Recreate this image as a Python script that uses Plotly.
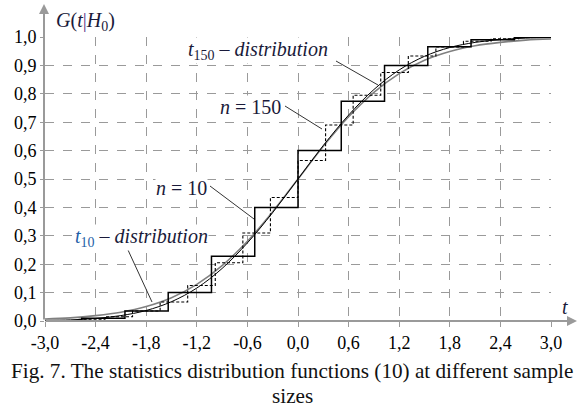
import plotly.graph_objects as go

# ---------------- data ----------------
t_grid = [-3.0, -2.7, -2.4, -2.1, -1.8, -1.5, -1.2, -0.9, -0.6, -0.3, 0.0,
          0.3, 0.6, 0.9, 1.2, 1.5, 1.8, 2.1, 2.4, 2.7, 3.0]
g_t10 = [0.007, 0.011, 0.019, 0.031, 0.051, 0.082, 0.129, 0.195, 0.281, 0.385, 0.5,
         0.615, 0.719, 0.805, 0.871, 0.918, 0.949, 0.969, 0.981, 0.989, 0.993]
g_t150 = [0.002, 0.004, 0.009, 0.019, 0.037, 0.068, 0.116, 0.185, 0.275, 0.382, 0.5,
          0.618, 0.725, 0.815, 0.884, 0.932, 0.963, 0.981, 0.991, 0.996, 0.998]

n10_t = [-3.0, -2.565, -2.052, -1.539, -1.026, -0.513, 0.0, 0.513, 1.026, 1.539, 2.052, 2.565, 3.0]
n10_g = [0.001, 0.01, 0.035, 0.1, 0.228, 0.4, 0.6, 0.774, 0.9, 0.966, 0.99, 0.999, 0.999]

n150_t = [-3.0, -2.943, -2.616, -2.289, -1.962, -1.635, -1.308, -0.981, -0.654, -0.327, 0.0,
          0.327, 0.654, 0.981, 1.308, 1.635, 1.962, 2.289, 2.616, 2.943, 3.0]
n150_g = [0.001, 0.002, 0.006, 0.015, 0.035, 0.067, 0.125, 0.205, 0.31, 0.435, 0.565,
          0.69, 0.795, 0.875, 0.933, 0.965, 0.985, 0.994, 0.998, 0.999, 0.999]

x_tick_vals = [-3.0, -2.4, -1.8, -1.2, -0.6, 0.0, 0.6, 1.2, 1.8, 2.4, 3.0]
x_tick_text = ["-3,0", "-2,4", "-1,8", "-1,2", "-0,6", "0,0", "0,6", "1,2", "1,8", "2,4", "3,0"]
y_tick_vals = [0.0, 0.1, 0.2, 0.3, 0.4, 0.5, 0.6, 0.7, 0.8, 0.9, 1.0]
y_tick_text = ["0,0", "0,1", "0,2", "0,3", "0,4", "0,5", "0,6", "0,7", "0,8", "0,9", "1,0"]

# ---------------- layout helpers ----------------
W, H = 579, 407
L, R, T, B = 45, 28, 37, 86
PW, PH = W - L - R, H - T - B


def px(x):
    return (x - L) / PW


def py(y):
    return (H - B - y) / PH


SERIF = "Liberation Serif"
TXT = "#1a1a3a"
GRID = "#9a9a9a"

fig = go.Figure()
fig.add_trace(go.Scatter(x=t_grid, y=g_t10, mode="lines", line=dict(color="#808080", width=1.6, shape="spline"),
                         hoverinfo="skip"))
fig.add_trace(go.Scatter(x=t_grid, y=g_t150, mode="lines", line=dict(color="#000000", width=1.0, shape="spline"),
                         hoverinfo="skip"))
fig.add_trace(go.Scatter(x=n150_t, y=n150_g, mode="lines",
                         line=dict(color="#000000", width=1.1, shape="hv", dash="3px,2px"), hoverinfo="skip"))
fig.add_trace(go.Scatter(x=n10_t, y=n10_g, mode="lines", line=dict(color="#000000", width=1.5, shape="hv"),
                         hoverinfo="skip"))

fig.update_layout(
    width=W, height=H, margin=dict(l=L, r=R, t=T, b=B),
    paper_bgcolor="white", plot_bgcolor="white", showlegend=False,
    font=dict(family=SERIF, color="#000"),
    xaxis=dict(range=[-3.0, 3.0], tickvals=x_tick_vals, ticktext=x_tick_text,
               showgrid=True, gridcolor=GRID, griddash="dash", gridwidth=1,
               zeroline=False, showline=False, ticks="outside", ticklen=5, tickcolor=GRID,
               tickfont=dict(family=SERIF, size=18, color="#000")),
    yaxis=dict(range=[0.0, 1.0], tickvals=y_tick_vals, ticktext=y_tick_text,
               showgrid=True, gridcolor=GRID, griddash="dash", gridwidth=1,
               zeroline=False, showline=False, ticks="outside", ticklen=4, tickcolor=GRID,
               tickfont=dict(family=SERIF, size=18, color="#000")),
)

ann = []
# axis arrows
ann.append(dict(x=px(577), y=py(321), xref="paper", yref="paper", ax=-533, ay=0, text="",
                showarrow=True, arrowhead=2, arrowsize=1, arrowwidth=2, arrowcolor=GRID))
ann.append(dict(x=px(44), y=py(4), xref="paper", yref="paper", ax=0, ay=317, text="",
                showarrow=True, arrowhead=2, arrowsize=1, arrowwidth=2, arrowcolor=GRID))


def label(x, y, text, size=20, xanchor="center", color=TXT, bg=None):
    d = dict(x=px(x), y=py(y), xref="paper", yref="paper", text=text, showarrow=False,
             xanchor=xanchor, yanchor="middle", font=dict(family=SERIF, size=size, color=color),
             borderpad=0)
    if bg:
        d["bgcolor"] = bg
    ann.append(d)


label(55, 22, "<i>G</i>(<i>t</i><span style='color:#5a3a8a'>|</span><i>H</i><sub>0</sub>)", xanchor="left")
label(565, 307, "<i>t</i>")
label(258, 50, "<i>t</i><sub>150</sub> <i>– distribution</i>", bg="white")
label(250, 107, "<i>n</i> = 150", bg="white")
label(181, 188, "<i>n</i> = 10", bg="white")
label(74, 237, "<span style='color:#1f5fa8'><i>t</i><sub>10</sub></span> <i>– distribution</i>",
      xanchor="left", bg="white")
label(292, 371, "Fig. 7. The statistics distribution functions (10) at different sample", size=21.2, color="#111")
label(292, 396, "sizes", size=21.2, color="#111")
fig.update_layout(annotations=ann)

# pointer lines
for (x0, y0, x1, y1) in [(336, 61, 378, 85), (285, 106, 322, 129), (210, 186, 254, 219), (128, 250, 152, 302)]:
    fig.add_shape(type="line", xref="paper", yref="paper", x0=px(x0), y0=py(y0), x1=px(x1), y1=py(y1),
                  line=dict(color="#333333", width=1))

fig.write_html("out.html")
